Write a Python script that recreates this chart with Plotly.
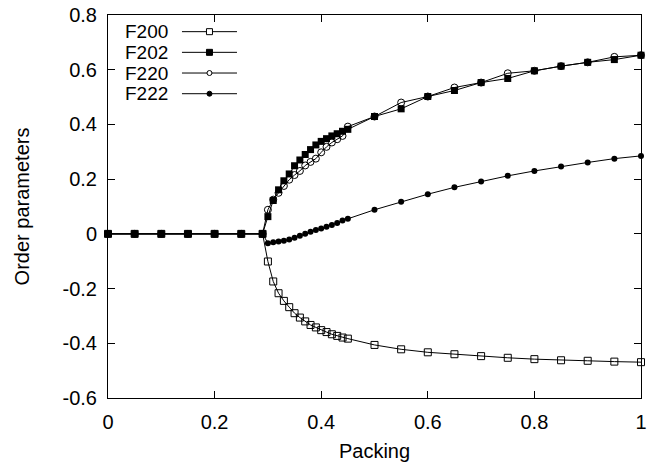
import plotly.graph_objects as go

# Packing fraction sampled in the simulation
packing = [0.0, 0.05, 0.10, 0.15, 0.20, 0.25, 0.29,
           0.30, 0.31, 0.32, 0.33, 0.34, 0.35, 0.36, 0.37,
           0.38, 0.39, 0.40, 0.41, 0.42, 0.43, 0.44, 0.45,
           0.50, 0.55, 0.60, 0.65, 0.70, 0.75, 0.80, 0.85, 0.90, 0.95, 1.00]

# Order parameters
f200 = [0, 0, 0, 0, 0, 0, 0,
        -0.101, -0.174, -0.217, -0.245, -0.268, -0.290, -0.306, -0.320,
        -0.333, -0.342, -0.352, -0.359, -0.367, -0.373, -0.379, -0.383,
        -0.406, -0.422, -0.433, -0.440, -0.447, -0.453, -0.458, -0.462, -0.464, -0.467, -0.469]
f202 = [0, 0, 0, 0, 0, 0, 0,
        0.063, 0.122, 0.161, 0.194, 0.219, 0.249, 0.270, 0.290,
        0.308, 0.325, 0.338, 0.348, 0.358, 0.366, 0.375, 0.382,
        0.429, 0.457, 0.502, 0.524, 0.553, 0.568, 0.596, 0.613, 0.627, 0.637, 0.653]
f220 = [0, 0, 0, 0, 0, 0, 0,
        0.088, 0.125, 0.150, 0.175, 0.198, 0.215, 0.230, 0.250,
        0.263, 0.275, 0.298, 0.318, 0.334, 0.346, 0.358, 0.392,
        0.429, 0.480, 0.502, 0.535, 0.553, 0.587, 0.596, 0.613, 0.627, 0.647, 0.653]
f222 = [0, 0, 0, 0, 0, 0, 0,
        -0.034, -0.031, -0.028, -0.025, -0.021, -0.014, -0.007, 0.000,
        0.008, 0.014, 0.020, 0.026, 0.032, 0.040, 0.049, 0.055,
        0.088, 0.117, 0.145, 0.170, 0.191, 0.212, 0.230, 0.246, 0.261, 0.275, 0.285]

series_names = ["F200", "F202", "F220", "F222"]

x_tick_vals = [0, 0.2, 0.4, 0.6, 0.8, 1.0]
x_tick_text = ["0", "0.2", "0.4", "0.6", "0.8", "1"]
y_tick_vals = [-0.6, -0.4, -0.2, 0, 0.2, 0.4, 0.6, 0.8]
y_tick_text = ["-0.6", "-0.4", "-0.2", "0", "0.2", "0.4", "0.6", "0.8"]

FONT = "Liberation Sans, Arial, Helvetica, sans-serif"
BLACK = "#000000"

styles = [
    dict(symbol="square-open", size=7, line=dict(width=1, color=BLACK)),
    dict(symbol="square", size=7, color=BLACK),
    dict(symbol="circle-open", size=7, line=dict(width=1, color=BLACK)),
    dict(symbol="circle", size=6, color=BLACK),
]

fig = go.Figure()
for name, ys, st in zip(series_names, [f200, f202, f220, f222], styles):
    fig.add_trace(go.Scatter(
        x=packing, y=ys, name=name, mode="lines+markers",
        line=dict(color=BLACK, width=1),
        marker=dict(color=BLACK, **{k: v for k, v in st.items() if k != "color"}),
        cliponaxis=False, showlegend=False,
    ))

# Key in the upper-left corner: label, then a short line with the symbol
row_y = [0.9565, 0.9025, 0.8485, 0.7945]
shapes = []
annotations = []
for name, py, st in zip(series_names, row_y, styles):
    annotations.append(dict(
        x=0.1163, y=py, xref="paper", yref="paper", text=name,
        showarrow=False, xanchor="right", yanchor="middle",
        font=dict(family=FONT, size=19, color=BLACK),
    ))
    shapes.append(dict(type="line", xref="paper", yref="paper",
                       x0=0.1388, x1=0.242, y0=py, y1=py,
                       line=dict(color=BLACK, width=1)))
    cx = 0.1904
    hx = 3 / 533
    hy = 3 / 383
    filled = st["symbol"] in ("square", "circle")
    kind = "rect" if st["symbol"].startswith("square") else "circle"
    if kind == "circle":
        hx = 2.5 / 533
        hy = 2.5 / 383
    shapes.append(dict(type=kind, xref="paper", yref="paper",
                       x0=cx - hx, x1=cx + hx, y0=py - hy, y1=py + hy,
                       fillcolor=BLACK if filled else "white",
                       line=dict(color=BLACK, width=1)))

axis_common = dict(
    showline=True, linecolor=BLACK, linewidth=1, mirror="ticks",
    ticks="inside", ticklen=7, tickwidth=1, tickcolor=BLACK,
    showgrid=False, zeroline=False, automargin=False,
    tickfont=dict(family=FONT, size=20, color=BLACK),
)

fig.update_layout(
    width=660, height=462,
    margin=dict(l=108, r=19, t=15, b=64),
    paper_bgcolor="white", plot_bgcolor="white",
    font=dict(family=FONT, size=20, color=BLACK),
    xaxis=dict(range=[0, 1], tickvals=x_tick_vals, ticktext=x_tick_text,
               title=dict(text="Packing", font=dict(family=FONT, size=20), standoff=14),
               ticklabelstandoff=6, **axis_common),
    yaxis=dict(range=[-0.6, 0.8], tickvals=y_tick_vals, ticktext=y_tick_text,
               title=dict(text="Order parameters", font=dict(family=FONT, size=20), standoff=27),
               ticklabelstandoff=6, **axis_common),
    shapes=shapes, annotations=annotations,
)

fig.write_html("out.html")
